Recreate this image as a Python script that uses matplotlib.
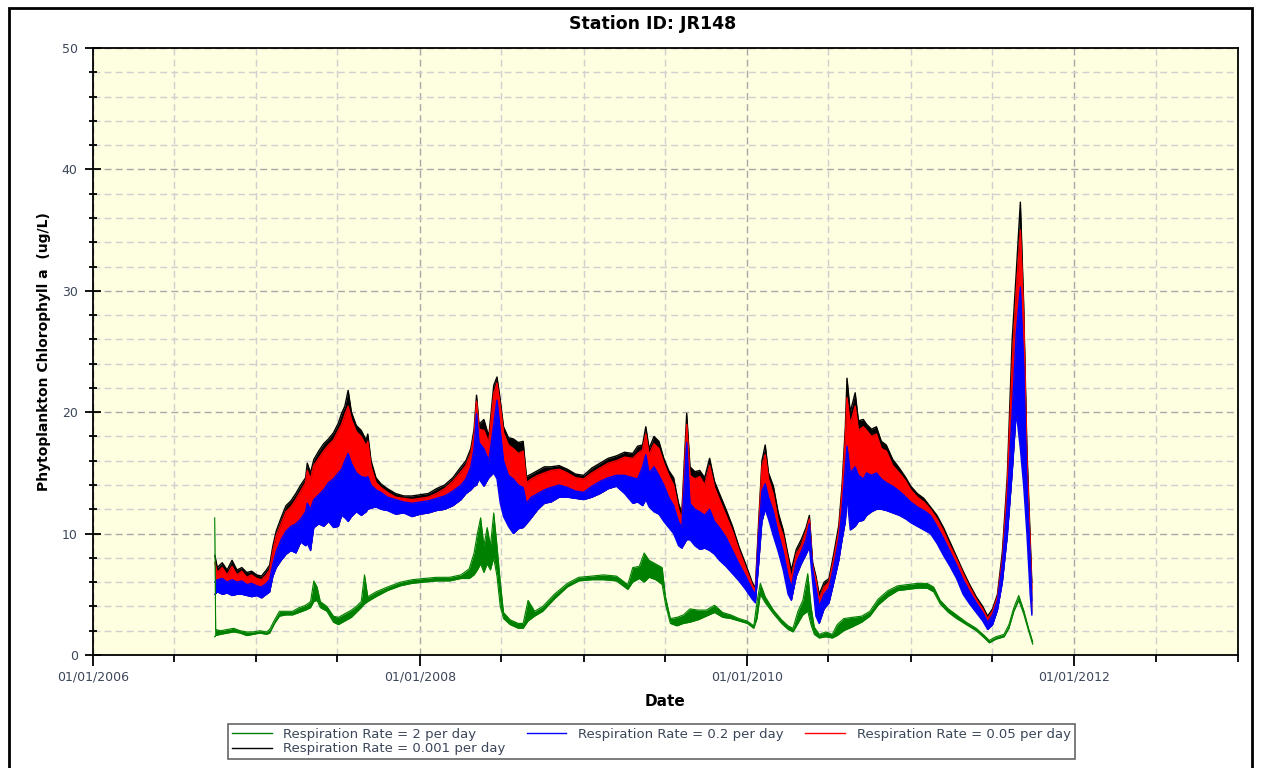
import numpy as np
import pandas as pd
import matplotlib
matplotlib.use("Agg")
import matplotlib.pyplot as plt
import matplotlib.dates as mdates
from matplotlib.ticker import MultipleLocator
from matplotlib.patches import Rectangle
from matplotlib.lines import Line2D

# Main model runs (rates 0.2, 0.05, 0.001): band edges, decimal years
t_main = [2006.745, 2006.76, 2006.79, 2006.82, 2006.85, 2006.88, 2006.91, 2006.94, 2006.97, 2007.00,
          2007.03, 2007.06, 2007.08, 2007.10, 2007.12, 2007.15, 2007.18, 2007.21, 2007.24, 2007.27,
          2007.30, 2007.31, 2007.33, 2007.35, 2007.38, 2007.41, 2007.44, 2007.47, 2007.50, 2007.52,
          2007.54, 2007.56, 2007.58, 2007.61, 2007.64, 2007.67, 2007.68, 2007.70, 2007.73, 2007.76,
          2007.80, 2007.85, 2007.90, 2007.95, 2008.00, 2008.05, 2008.10, 2008.15, 2008.20, 2008.25,
          2008.28, 2008.31, 2008.33, 2008.345, 2008.36, 2008.39, 2008.42, 2008.45, 2008.47, 2008.49,
          2008.51, 2008.54, 2008.57, 2008.60, 2008.63, 2008.65, 2008.68, 2008.72, 2008.76, 2008.80,
          2008.85, 2008.90, 2008.95, 2009.00, 2009.05, 2009.10, 2009.15, 2009.20, 2009.25, 2009.30,
          2009.33, 2009.36, 2009.38, 2009.40, 2009.43, 2009.46, 2009.49, 2009.52, 2009.55, 2009.58,
          2009.60, 2009.63, 2009.65, 2009.68, 2009.71, 2009.74, 2009.77, 2009.80, 2009.83, 2009.87,
          2009.91, 2009.95, 2009.99, 2010.03, 2010.05, 2010.07, 2010.09, 2010.11, 2010.13, 2010.16,
          2010.19, 2010.22, 2010.25, 2010.27, 2010.30, 2010.33, 2010.36, 2010.38, 2010.40, 2010.42,
          2010.44, 2010.47, 2010.50, 2010.53, 2010.56, 2010.58, 2010.60, 2010.61, 2010.63, 2010.66,
          2010.68, 2010.71, 2010.73, 2010.76, 2010.79, 2010.82, 2010.85, 2010.89, 2010.93, 2010.97,
          2011.00, 2011.04, 2011.08, 2011.12, 2011.16, 2011.20, 2011.24, 2011.28, 2011.32, 2011.36,
          2011.40, 2011.44, 2011.47, 2011.50, 2011.53, 2011.56, 2011.59, 2011.62, 2011.645, 2011.67,
          2011.69, 2011.71, 2011.73, 2011.74]

blue_low = [5.0, 5.2, 5.0, 5.1, 4.9, 5.0, 5.0, 4.9, 4.8, 4.9,
            4.7, 5.0, 5.2, 6.5, 7.2, 7.8, 8.3, 8.6, 8.4, 9.3,
            9.0, 9.2, 8.6, 10.5, 10.8, 10.6, 11.0, 10.5, 10.6, 11.5,
            11.3, 11.0, 11.4, 11.8, 11.5, 11.8, 12.0, 12.1, 12.2, 12.0,
            11.9, 11.6, 11.7, 11.4, 11.6, 11.7, 11.9, 12.0, 12.3, 12.8,
            13.3, 13.6, 13.9, 14.0, 14.5, 13.9, 14.6, 15.0, 14.5, 12.5,
            11.4, 10.6, 10.0, 10.4, 10.5, 10.8, 11.3, 12.0, 12.5, 12.6,
            13.0, 13.0, 12.9, 12.8, 13.0, 13.3, 13.7, 13.9, 13.3, 12.5,
            12.6, 12.3, 12.8, 12.2, 11.8, 11.6, 11.0, 10.5, 10.0, 9.0,
            8.8, 9.5, 9.5, 9.0, 8.7, 8.8, 8.6, 8.3, 7.8, 7.3,
            6.7, 6.1, 5.4, 4.6, 4.3, 7.5, 11.0, 12.0, 11.2, 9.8,
            8.5, 7.0, 5.0, 4.5, 6.5, 7.5, 8.3, 8.9, 6.0, 3.2,
            2.6, 3.8, 4.3, 6.0, 7.8, 9.5, 11.0, 13.0, 10.3, 10.6,
            11.0, 11.1, 11.5, 11.8, 12.0, 12.0, 11.9, 11.7, 11.5, 11.2,
            10.9, 10.6, 10.3, 10.0, 9.2, 8.2, 7.3, 6.3, 5.0, 4.2,
            3.5, 2.8, 2.1, 2.5, 3.7, 6.0, 9.8, 15.0, 20.0, 17.0,
            14.0, 10.0, 5.0, 3.3]

blue_high = [6.0, 6.2, 6.3, 6.0, 6.2, 6.0, 6.1, 5.8, 5.9, 5.7,
             5.6, 5.9, 6.2, 7.5, 8.5, 9.5, 10.2, 10.6, 10.8, 11.2,
             11.8, 12.5, 12.0, 12.8, 13.2, 13.6, 14.2, 14.5, 15.0, 15.3,
             16.0, 16.6, 15.8, 15.0, 14.7, 14.6, 14.7, 14.0, 13.6, 13.4,
             13.0, 12.8, 12.6, 12.5, 12.6, 12.7, 12.9, 13.1, 13.5, 14.0,
             14.5, 15.5, 17.0, 19.9, 17.5, 17.0, 16.0, 19.0, 21.0, 18.5,
             16.0, 14.8, 14.5, 14.0, 13.8, 12.5, 13.0, 13.3, 13.6, 13.8,
             14.0, 13.8, 13.5, 13.4, 13.9, 14.3, 14.6, 14.8, 14.8, 14.6,
             14.5, 15.5, 16.5, 15.0, 15.5, 14.8, 14.0, 13.0, 12.3, 11.0,
             10.5, 17.5, 12.5, 12.0, 11.8, 11.5, 12.0, 11.0, 10.5, 9.7,
             8.6, 7.5, 6.5, 5.4, 5.0, 10.0, 13.5, 14.1, 13.0, 11.8,
             10.0, 8.5, 6.5, 5.6, 7.6, 8.5, 9.5, 10.8, 7.0, 5.5,
             4.0, 5.0, 5.5, 7.3, 9.5, 12.0, 15.5, 17.2, 15.0, 15.5,
             14.8, 14.5, 15.0, 14.8, 15.0, 14.5, 14.2, 13.9, 13.5, 13.0,
             12.6, 12.2, 11.9, 11.5, 10.6, 9.6, 8.5, 7.4, 6.2, 5.2,
             4.3, 3.5, 2.7, 3.3, 4.5, 7.5, 12.5, 20.0, 26.5, 30.3,
             24.0, 14.0, 8.0, 4.5]

red_high = [7.6, 6.8, 7.2, 6.6, 7.3, 6.6, 6.9, 6.4, 6.6, 6.3,
            6.2, 6.6, 7.0, 8.6, 9.8, 10.8, 11.8, 12.2, 12.8, 13.5,
            14.2, 15.2, 14.5, 15.6, 16.2, 16.8, 17.3, 17.7, 18.5, 19.0,
            19.8, 20.5, 19.4, 18.4, 18.0, 17.2, 17.6, 15.5, 14.2, 13.8,
            13.4, 13.0, 12.9, 12.8, 12.9, 13.0, 13.3, 13.7, 14.3, 15.1,
            15.6, 16.6, 18.2, 20.9, 18.6, 18.5, 17.5, 21.5, 22.4, 20.5,
            18.3, 17.3, 17.0, 16.6, 16.8, 14.2, 14.5, 14.8, 15.0, 15.2,
            15.3, 15.0, 14.6, 14.5, 15.0, 15.4, 15.8, 16.0, 16.3, 16.2,
            16.6, 16.9, 18.2, 16.5, 17.4, 17.0, 15.8, 14.8, 14.0, 12.0,
            11.2, 19.0, 14.8, 14.5, 14.7, 14.0, 15.6, 13.8, 12.8, 11.5,
            10.2, 8.6, 7.2, 5.8, 5.3, 10.5, 15.5, 16.5, 14.5, 13.2,
            11.0, 9.8, 7.8, 6.3, 8.3, 9.0, 10.2, 11.2, 7.3, 6.2,
            4.6, 5.6, 6.0, 8.0, 10.2, 13.5, 18.0, 21.2, 19.0, 20.5,
            18.5, 18.8, 18.5, 18.0, 18.2, 17.0, 16.8, 15.6, 15.0, 14.3,
            13.6, 13.0, 12.6, 12.0, 11.2, 10.2, 9.0, 7.9, 6.7, 5.6,
            4.6, 3.8, 3.0, 3.6, 4.8, 8.0, 14.0, 24.0, 30.0, 35.0,
            28.0, 16.0, 9.0, 5.5]

black_high = [8.2, 7.2, 7.6, 7.0, 7.8, 7.0, 7.2, 6.8, 6.9, 6.6,
              6.5, 7.0, 7.4, 9.0, 10.2, 11.3, 12.3, 12.7, 13.3, 14.0,
              14.6, 15.8, 15.0, 16.1, 16.8, 17.4, 17.8, 18.3, 19.1, 19.9,
              20.5, 21.8, 20.0, 18.9, 18.5, 17.7, 18.2, 16.0, 14.6, 14.1,
              13.7, 13.3, 13.1, 13.1, 13.2, 13.3, 13.7, 14.0, 14.6, 15.5,
              16.0, 17.0, 18.6, 21.4, 19.0, 19.4, 18.0, 22.2, 22.9, 21.0,
              18.8, 17.9, 17.8, 17.5, 17.6, 14.7, 14.9, 15.2, 15.5, 15.5,
              15.6, 15.3, 14.9, 14.8, 15.4, 15.8, 16.2, 16.4, 16.7, 16.6,
              17.2, 17.3, 18.8, 17.0, 18.0, 17.6, 16.2, 15.2, 14.6, 12.5,
              11.7, 19.9, 15.5, 15.1, 15.2, 14.6, 16.2, 14.3, 13.3, 12.0,
              10.6, 8.9, 7.5, 6.0, 5.5, 11.0, 16.0, 17.3, 15.0, 13.9,
              11.7, 10.3, 8.2, 7.0, 8.7, 9.5, 10.5, 11.5, 7.6, 6.5,
              5.0, 6.0, 6.3, 8.4, 10.7, 14.0, 18.8, 22.8, 20.0, 21.6,
              19.3, 19.4, 19.0, 18.6, 18.8, 17.6, 17.3, 16.1, 15.4, 14.6,
              13.9, 13.3, 12.9, 12.2, 11.5, 10.5, 9.3, 8.1, 6.9, 5.8,
              4.8, 4.0, 3.2, 3.8, 5.0, 8.5, 14.7, 26.0, 31.5, 37.3,
              29.0, 17.0, 9.5, 6.0]

# Respiration rate = 2 per day run
t_green = [2006.744, 2006.75, 2006.78, 2006.82, 2006.86, 2006.90, 2006.94, 2006.98, 2007.02, 2007.06,
           2007.08, 2007.11, 2007.14, 2007.18, 2007.22, 2007.26, 2007.30, 2007.33, 2007.35, 2007.37,
           2007.39, 2007.43, 2007.47, 2007.50, 2007.54, 2007.58, 2007.61, 2007.64, 2007.66, 2007.68,
           2007.73, 2007.80, 2007.88, 2007.95, 2008.02, 2008.10, 2008.18, 2008.25, 2008.30, 2008.33,
           2008.35, 2008.37, 2008.39, 2008.41, 2008.43, 2008.45, 2008.47, 2008.49, 2008.51, 2008.55,
           2008.60, 2008.63, 2008.66, 2008.70, 2008.75, 2008.82, 2008.90, 2008.97, 2009.05, 2009.12,
           2009.20, 2009.27, 2009.30, 2009.34, 2009.37, 2009.40, 2009.44, 2009.48, 2009.50, 2009.53,
           2009.57, 2009.61, 2009.65, 2009.70, 2009.75, 2009.80, 2009.85, 2009.90, 2009.95, 2010.00,
           2010.04, 2010.06, 2010.08, 2010.11, 2010.16, 2010.21, 2010.25, 2010.28, 2010.31, 2010.34,
           2010.37, 2010.39, 2010.41, 2010.44, 2010.48, 2010.52, 2010.55, 2010.59, 2010.64, 2010.70,
           2010.75, 2010.80, 2010.86, 2010.92, 2010.98, 2011.04, 2011.10, 2011.14, 2011.18, 2011.23,
           2011.28, 2011.34, 2011.40, 2011.45, 2011.48, 2011.52, 2011.57, 2011.60, 2011.63, 2011.66,
           2011.69, 2011.72, 2011.745]

green_low = [1.5, 1.6, 1.7, 1.8, 1.9, 1.8, 1.6, 1.7, 1.8, 1.7,
             1.8, 2.6, 3.2, 3.3, 3.3, 3.5, 3.7, 3.9, 4.4, 4.5,
             3.9, 3.6, 2.7, 2.5, 2.8, 3.1, 3.5, 3.9, 4.2, 4.4,
             4.8, 5.3, 5.7, 5.9, 6.0, 6.1, 6.1, 6.3, 6.3, 6.6,
             7.0, 7.5, 6.8, 7.5, 7.0, 8.0, 6.5, 4.0, 3.0, 2.5,
             2.2, 2.2, 2.8, 3.2, 3.6, 4.6, 5.6, 6.1, 6.2, 6.2,
             6.1, 5.4, 6.0, 6.3, 6.0, 6.4, 6.2, 5.8, 4.2, 2.6,
             2.4, 2.6, 2.7, 2.9, 3.2, 3.5, 3.1, 3.0, 2.8, 2.6,
             2.2, 3.0, 5.0, 4.3, 3.4, 2.6, 2.1, 1.9, 2.6, 3.3,
             3.6, 2.5, 1.7, 1.4, 1.5, 1.4, 1.6, 2.0, 2.3, 2.7,
             3.2, 4.1, 4.8, 5.3, 5.4, 5.5, 5.5, 5.2, 4.2, 3.5,
             3.0, 2.5, 2.0, 1.4, 1.0, 1.3, 1.5, 2.2, 3.6, 4.5,
             3.4, 2.0, 0.9]

green_high = [11.3, 2.1, 2.0, 2.1, 2.2, 2.0, 1.9, 1.9, 2.0, 1.9,
              2.1, 2.9, 3.6, 3.6, 3.6, 3.9, 4.1, 4.4, 6.1, 5.6,
              4.4, 4.0, 3.2, 3.1, 3.4, 3.7, 4.0, 4.4, 6.6, 4.8,
              5.2, 5.6, 6.0, 6.2, 6.3, 6.4, 6.4, 6.6, 7.1, 8.4,
              10.0, 11.3, 9.0, 10.5, 9.0, 11.7, 9.0, 6.0, 3.5, 2.9,
              2.6, 2.6, 4.5, 3.6, 4.0, 5.0, 5.9, 6.4, 6.5, 6.6,
              6.5, 5.8, 7.2, 7.3, 8.4, 7.8, 7.5, 7.2, 4.8, 3.0,
              3.1, 3.3, 3.8, 3.7, 3.7, 4.1, 3.5, 3.3, 3.0, 2.8,
              2.4, 4.4, 5.9, 4.8, 3.7, 2.9, 2.4, 2.2, 3.6, 4.5,
              6.7, 4.0, 2.3, 1.7, 1.9, 1.7, 2.5, 3.0, 3.1, 3.2,
              3.6, 4.6, 5.3, 5.7, 5.8, 5.9, 5.9, 5.6, 4.5, 3.8,
              3.3, 2.7, 2.2, 1.6, 1.2, 1.5, 1.7, 2.5, 3.9, 4.9,
              3.7, 2.2, 1.1]


def to_dates(years):
    years = np.asarray(years)
    return pd.to_datetime("2006-01-01") + pd.to_timedelta((years - 2006) * 365.25, unit="D")


d_main = to_dates(t_main)
d_green = to_dates(t_green)

fig = plt.figure(figsize=(12.65, 7.68), dpi=100)
ax = fig.add_axes([93 / 1265, 1 - 655 / 768, (1238 - 93) / 1265, (655 - 48) / 768])
ax.set_facecolor("#fefee0")

# back to front: black, red, blue, green
ax.fill_between(d_main, blue_low, black_high, color="black", lw=0, zorder=2)
ax.plot(d_main, black_high, color="black", lw=1, zorder=2)
ax.fill_between(d_main, blue_low, red_high, color="red", lw=0, zorder=3)
ax.plot(d_main, red_high, color="red", lw=1, zorder=3)
ax.fill_between(d_main, blue_low, blue_high, color="blue", lw=0, zorder=4)
ax.plot(d_main, blue_low, color="blue", lw=1, zorder=4)
ax.plot(d_main, blue_high, color="blue", lw=1, zorder=4)
ax.fill_between(d_green, green_low, green_high, color="green", lw=0, zorder=5)
ax.plot(d_green, green_low, color="green", lw=0.8, zorder=5)
ax.plot(d_green, green_high, color="green", lw=0.8, zorder=5)

ax.set_xlim(pd.Timestamp("2006-01-01"), pd.Timestamp("2013-01-01"))
ax.set_ylim(0, 50)

ax.xaxis.set_major_locator(mdates.YearLocator(base=2))
ax.xaxis.set_minor_locator(mdates.MonthLocator(bymonth=[1, 7]))
ax.xaxis.set_major_formatter(mdates.DateFormatter("%m/%d/%Y"))
ax.yaxis.set_major_locator(MultipleLocator(10))
ax.yaxis.set_minor_locator(MultipleLocator(2))

ax.grid(which="major", color="#a8a8a8", linestyle=(0, (5, 3)), lw=1, zorder=1)
ax.grid(which="minor", color="#d0d0d0", linestyle=(0, (5, 3)), lw=1, zorder=1)
ax.set_axisbelow(True)

tick_col = "#3b4658"
ax.tick_params(axis="x", which="major", direction="out", length=8, width=1.3,
               labelsize=9, labelcolor=tick_col, pad=3)
ax.tick_params(axis="x", which="minor", direction="out", length=5, width=1.3)
ax.tick_params(axis="y", which="major", direction="inout", length=12, width=1.3,
               labelsize=9, labelcolor=tick_col, pad=5)
ax.tick_params(axis="y", which="minor", direction="inout", length=6, width=1.3)
for s in ax.spines.values():
    s.set_linewidth(1.3)

ax.set_xlabel("Date", fontsize=11, fontweight="bold", labelpad=8)
ax.set_ylabel("Phytoplankton Chlorophyll a  (ug/L)", fontsize=10, fontweight="bold", labelpad=8)
fig.text(653 / 1265, 1 - 24 / 768, "Station ID: JR148", ha="center", va="center",
         fontsize=12.5, fontweight="bold")

handles = [
    Line2D([], [], color="green", lw=1),
    Line2D([], [], color="black", lw=1),
    Line2D([], [], color="blue", lw=1),
    Line2D([], [], color="red", lw=1),
]
labels = [
    "Respiration Rate = 2 per day",
    "Respiration Rate = 0.001 per day",
    "Respiration Rate = 0.2 per day",
    "Respiration Rate = 0.05 per day",
]
leg = fig.legend(handles, labels, loc="upper left", bbox_to_anchor=(228 / 1265, 1 - 724 / 768),
                 ncol=3, fontsize=9.5, frameon=True, fancybox=False, handlelength=3,
                 columnspacing=1.6, labelspacing=0.1, borderpad=0.3, handletextpad=0.9,
                 borderaxespad=0)
leg.get_frame().set_edgecolor("#404040")
leg.get_frame().set_linewidth(1.2)
for txt in leg.get_texts():
    txt.set_color(tick_col)

# outer chart border
fig.add_artist(Rectangle((9 / 1265, -0.02), (1252 - 9) / 1265, 1.02 - 8 / 768,
                         transform=fig.transFigure, fill=False, ec="black", lw=2))

fig.savefig("out.png", dpi=100)
